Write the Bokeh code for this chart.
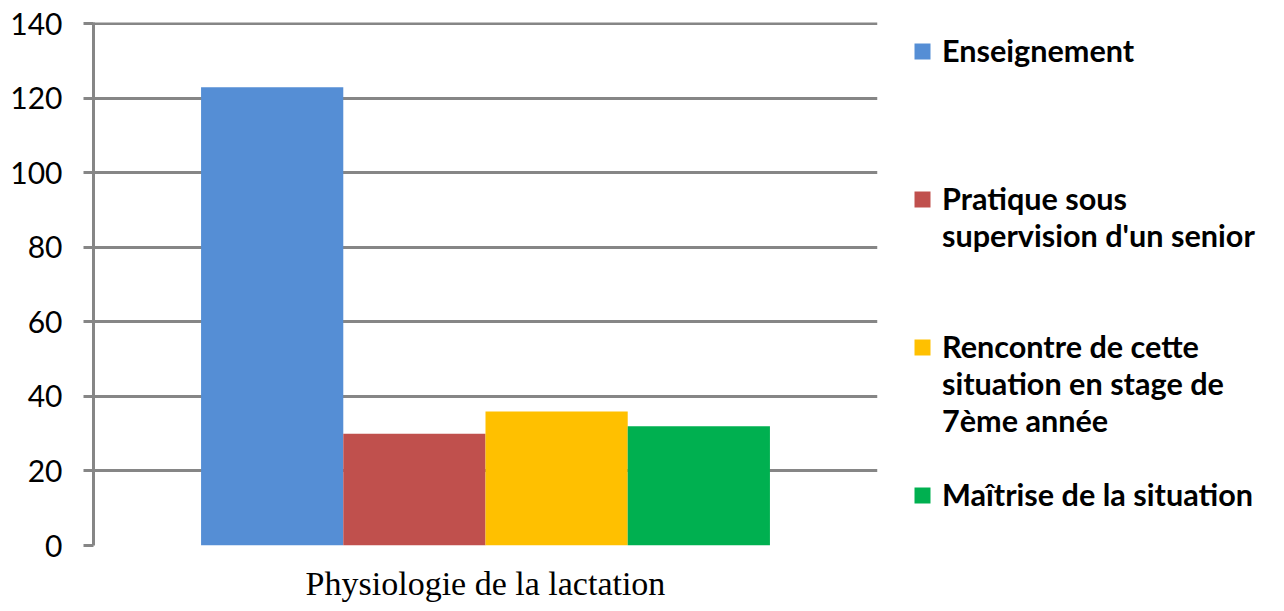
from bokeh.plotting import figure
from bokeh.models import (FactorRange, Range1d, CategoricalAxis,
                          FixedTicker, Legend, LegendItem, ColumnDataSource)
from bokeh.transform import dodge
from bokeh.embed import file_html
from bokeh.resources import INLINE

# ---- data ----
categories = ["Physiologie de la lactation"]
series = [
    "Enseignement",
    "Pratique sous\nsupervision d'un senior",
    "Rencontre de cette\nsituation en stage de\n7ème année",
    "Maîtrise de la situation",
]
values = [123, 30, 36, 32]
colors = ["#558ED5", "#C0504D", "#FFC000", "#00B050"]
y_ticks = [0, 20, 40, 60, 80, 100, 120, 140]

GREY = "#868686"

p = figure(x_range=FactorRange(*categories), y_range=Range1d(0, 140.4),
           frame_width=784, frame_height=523, output_backend="svg",
           toolbar_location=None, x_axis_location=None,
           min_border_left=93, min_border_right=10,
           min_border_top=22, min_border_bottom=40)
p.outline_line_color = None
p.background_fill_color = "white"
p.border_fill_color = "white"

# y axis
yax = p.yaxis[0]
yax.ticker = FixedTicker(ticks=y_ticks)
yax.axis_line_color = GREY
yax.axis_line_width = 3
yax.major_tick_line_color = GREY
yax.major_tick_line_width = 3
yax.major_tick_out = 10
yax.major_tick_in = 0
yax.minor_tick_line_color = None
yax.major_label_text_font = "Lato"
yax.major_label_text_font_size = "30px"
yax.major_label_text_color = "black"
yax.major_label_standoff = 21

p.ygrid.ticker = FixedTicker(ticks=y_ticks)
p.ygrid.grid_line_color = GREY
p.ygrid.grid_line_width = 3
p.xgrid.grid_line_color = None

# bars
n = len(series)
bw = 0.1814
renderers = []
for i in range(n):
    src = ColumnDataSource(dict(x=categories, top=[values[i]]))
    off = (i - (n - 1) / 2) * bw
    r = p.vbar(x=dodge("x", off, range=p.x_range), top="top", width=bw,
               source=src, fill_color=colors[i], line_color=None)
    renderers.append(r)

# bottom axes: an edge axis whose two factors sit on the frame edges
p.extra_x_ranges = {"edges": FactorRange("start", "end", range_padding=-1,
                                         range_padding_units="absolute")}
edge_axis = CategoricalAxis(x_range_name="edges",
                            major_label_overrides={"start": "", "end": ""},
                            major_label_text_font_size="0px",
                            major_label_standoff=0,
                            axis_line_color=GREY, axis_line_width=3,
                            major_tick_line_color=GREY, major_tick_line_width=3,
                            major_tick_out=10, major_tick_in=0)
p.add_layout(edge_axis, "below")
cat_axis = CategoricalAxis(axis_line_color=None, major_tick_line_color=None,
                           major_label_text_font="Liberation Serif",
                           major_label_text_font_size="34px",
                           major_label_text_color="black",
                           major_label_standoff=13)
p.add_layout(cat_axis, "below")

# legend in the right panel; blank lines around each label keep the colour
# square level with the first line of its text and spread the entries out
lead = [2, 1, 2, 1]
items = []
for i in range(n):
    k = series[i].count("\n") + 1
    trail = lead[i] + 1 - k
    txt = "\n" * lead[i] + series[i] + ("\n" * (trail + 1) if trail > 0 else "")
    items.append(LegendItem(label=txt, renderers=[renderers[i]]))
lg = Legend(items=items, location=(35, -5), padding=0, margin=0, spacing=0,
            border_line_color=None, background_fill_alpha=0,
            glyph_width=20, glyph_height=20, label_standoff=10,
            label_height=20, label_text_font="Lato",
            label_text_font_style="bold", label_text_font_size="30.6px",
            label_text_color="black")
p.add_layout(lg, "right")

open("out.html", "w").write(file_html(p, INLINE))
